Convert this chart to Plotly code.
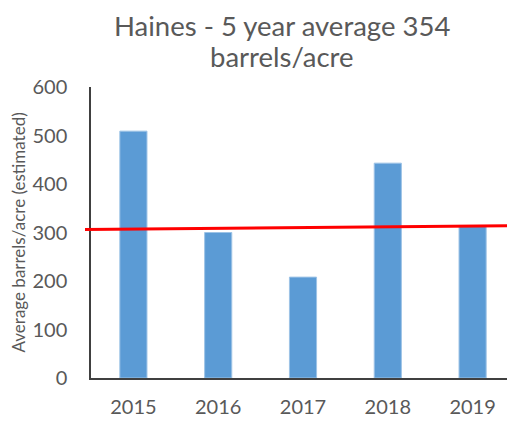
import plotly.graph_objects as go

years = ["2015", "2016", "2017", "2018", "2019"]
barrels = [509, 300, 208, 443, 313]
trend_values = [306, 314]  # red trend line, left end and right end
y_ticks = [0, 100, 200, 300, 400, 500, 600]
title_lines = ["Haines - 5 year average 354", "barrels/acre"]

FONT = "Lato, 'Open Sans', sans-serif"
GRAY = "#595959"

# page has an 8px body margin; figure is sized to fill the rest of the window
W, H = 507, 413
L, R, T, B = 83, 0, 79, 43
PW, PH = W - L - R, H - T - B

fig = go.Figure()
fig.add_trace(go.Bar(
    x=list(range(len(years))),
    y=barrels,
    marker=dict(color="#5B9BD5", line=dict(color="#9DC3E6", width=1)),
    width=0.32,
    showlegend=False,
    hoverinfo="x+y",
))

# Trend line (extends a little left of the y axis, to the right edge)
fig.add_shape(type="line", xref="paper", yref="y",
              x0=-6 / PW, x1=1.0, y0=trend_values[0], y1=trend_values[1],
              line=dict(color="#FF0000", width=3), layer="above")

fig.update_layout(
    width=W, height=H,
    margin=dict(l=L, r=R, t=T, b=B),
    paper_bgcolor="white", plot_bgcolor="white",
    font=dict(family=FONT, color=GRAY),
    bargap=0.68,
)
fig.update_xaxes(
    range=[-0.5, 4.5],
    tickmode="array", tickvals=list(range(len(years))), ticktext=years,
    showline=True, linecolor="#404040", linewidth=1.5,
    showgrid=False, zeroline=False, ticks="",
    tickfont=dict(size=20, color=GRAY, family=FONT),
    ticklabelstandoff=10,
)
fig.update_yaxes(
    range=[0, 600], tickvals=y_ticks,
    showline=True, linecolor="#404040", linewidth=1.5,
    showgrid=False, zeroline=False, ticks="",
    tickfont=dict(size=20, color=GRAY, family=FONT),
    ticklabelstandoff=18,
)

title_centers = [25, 57]  # page px
for line, cy in zip(title_lines, title_centers):
    fig.add_annotation(text=line, xref="paper", yref="paper",
                       x=(282 - 8 - L) / PW, y=(T + PH - (cy - 8)) / PH,
                       showarrow=False, xanchor="center", yanchor="middle",
                       font=dict(size=27.5, color=GRAY, family=FONT))

fig.add_annotation(text="Average barrels/acre (estimated)",
                   xref="paper", yref="paper", x=(18 - 8 - L) / PW, y=0.5,
                   textangle=-90, showarrow=False,
                   font=dict(size=17, color=GRAY, family=FONT),
                   xanchor="center", yanchor="middle")

fig.write_html("out.html")
